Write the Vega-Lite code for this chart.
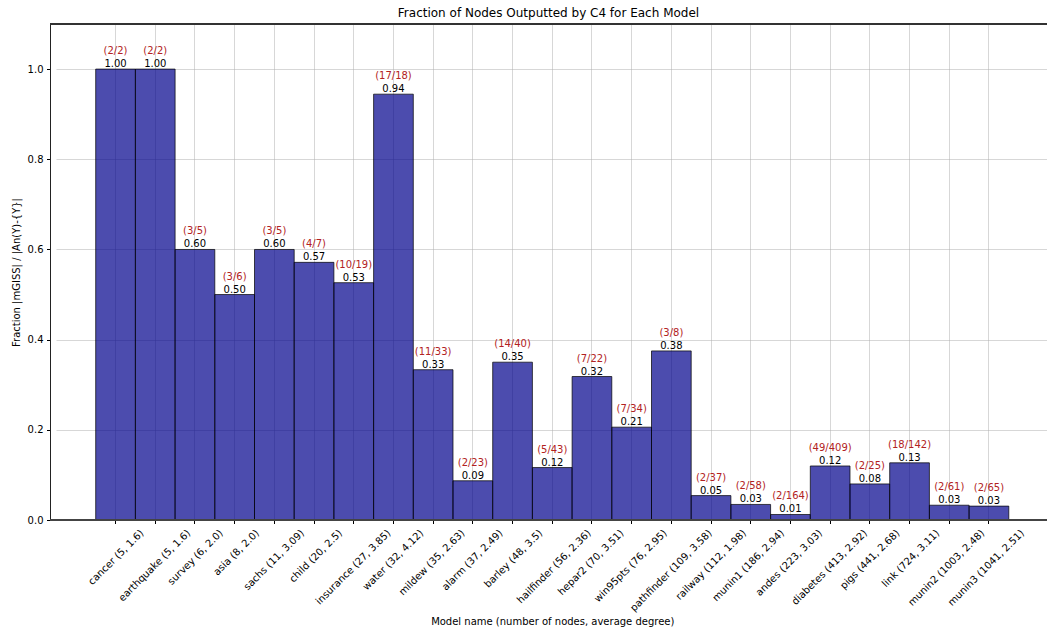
{
  "$schema": "https://vega.github.io/schema/vega-lite/v6.json",
  "width": 997,
  "height": 496,
  "autosize": {"type": "none"},
  "padding": {"left": 50, "top": 24, "right": 0, "bottom": 111},
  "title": {"text": "Fraction of Nodes Outputted by C4 for Each Model", "fontSize": 12, "fontWeight": "normal", "font": "DejaVu Sans", "color": "#000", "offset": 4},
  "config": {
    "font": "DejaVu Sans",
    "view": {"stroke": null},
    "axis": {"labelFont": "DejaVu Sans", "titleFont": "DejaVu Sans", "labelFontSize": 10, "titleFontSize": 10, "titleFontWeight": "normal", "labelColor": "#000", "titleColor": "#000", "tickColor": "#000", "tickSize": 3.5, "domainColor": "#222", "gridColor": "#b0b0b0", "gridOpacity": 0.5, "gridWidth": 1}
  },
  "data": {"values": [
    {"label": "cancer (5, 1.6)", "frac": 1.0, "ratio": "(2/2)"},
    {"label": "earthquake (5, 1.6)", "frac": 1.0, "ratio": "(2/2)"},
    {"label": "survey (6, 2.0)", "frac": 0.6, "ratio": "(3/5)"},
    {"label": "asia (8, 2.0)", "frac": 0.5, "ratio": "(3/6)"},
    {"label": "sachs (11, 3.09)", "frac": 0.6, "ratio": "(3/5)"},
    {"label": "child (20, 2.5)", "frac": 0.5714, "ratio": "(4/7)"},
    {"label": "insurance (27, 3.85)", "frac": 0.5263, "ratio": "(10/19)"},
    {"label": "water (32, 4.12)", "frac": 0.9444, "ratio": "(17/18)"},
    {"label": "mildew (35, 2.63)", "frac": 0.3333, "ratio": "(11/33)"},
    {"label": "alarm (37, 2.49)", "frac": 0.087, "ratio": "(2/23)"},
    {"label": "barley (48, 3.5)", "frac": 0.35, "ratio": "(14/40)"},
    {"label": "hailfinder (56, 2.36)", "frac": 0.1163, "ratio": "(5/43)"},
    {"label": "hepar2 (70, 3.51)", "frac": 0.3182, "ratio": "(7/22)"},
    {"label": "win95pts (76, 2.95)", "frac": 0.2059, "ratio": "(7/34)"},
    {"label": "pathfinder (109, 3.58)", "frac": 0.375, "ratio": "(3/8)"},
    {"label": "railway (112, 1.98)", "frac": 0.0541, "ratio": "(2/37)"},
    {"label": "munin1 (186, 2.94)", "frac": 0.0345, "ratio": "(2/58)"},
    {"label": "andes (223, 3.03)", "frac": 0.0122, "ratio": "(2/164)"},
    {"label": "diabetes (413, 2.92)", "frac": 0.1198, "ratio": "(49/409)"},
    {"label": "pigs (441, 2.68)", "frac": 0.08, "ratio": "(2/25)"},
    {"label": "link (724, 3.11)", "frac": 0.1268, "ratio": "(18/142)"},
    {"label": "munin2 (1003, 2.48)", "frac": 0.0328, "ratio": "(2/61)"},
    {"label": "munin3 (1041, 2.51)", "frac": 0.0308, "ratio": "(2/65)"}
  ]},
  "layer": [
    {"mark": {"type": "bar", "fill": "#00008b", "fillOpacity": 0.7, "stroke": "#000", "strokeOpacity": 0.7, "strokeWidth": 1},
      "encoding": {
        "x": {"field": "label", "type": "nominal", "sort": null,
          "scale": {"type": "band", "paddingInner": 0, "paddingOuter": 1, "align": 0.5, "range": [6, 998.5]},
          "axis": {"title": "Model name (number of nodes, average degree)", "titlePadding": 4, "grid": true, "domain": false, "labelAngle": -45, "labelAlign": "right", "labelBaseline": "middle", "labelPadding": 7.5,
            "labelOffset": {"expr": "length(datum.label)*1.77"}}},
        "y": {"field": "frac", "type": "quantitative",
          "scale": {"domain": [0, 1.1], "nice": false},
          "axis": {"title": "Fraction |mGISS| / |An(Y)-{Y}|", "values": [0, 0.2, 0.4, 0.6, 0.8, 1.0], "format": ".1f", "grid": true, "labelPadding": 3.5, "titlePadding": 6}}
      }},
    {"mark": {"type": "text", "baseline": "middle", "dy": -5, "fontSize": 10, "color": "#000"},
      "encoding": {
        "x": {"field": "label", "type": "nominal", "sort": null},
        "y": {"field": "frac", "type": "quantitative"},
        "text": {"field": "frac", "type": "quantitative", "format": ".2f"}}},
    {"mark": {"type": "text", "baseline": "middle", "dy": -18, "fontSize": 10, "color": "#b22222"},
      "encoding": {
        "x": {"field": "label", "type": "nominal", "sort": null},
        "y": {"field": "frac", "type": "quantitative"},
        "text": {"field": "ratio", "type": "nominal"}}},
    {"mark": {"type": "rule", "color": "#333", "strokeWidth": 1},
      "encoding": {"y": {"datum": 1.1}}},
    {"mark": {"type": "rule", "color": "#444", "strokeWidth": 1},
      "encoding": {"y": {"datum": 0}}}
  ]
}
